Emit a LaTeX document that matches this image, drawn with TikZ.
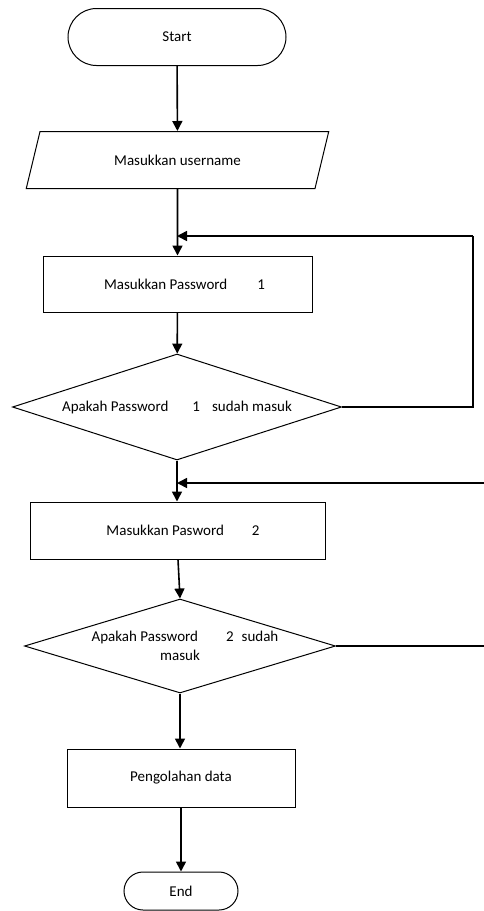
\documentclass[tikz,border=0pt]{standalone}
\usepackage{fontspec}
\setmainfont{Carlito}
\usetikzlibrary{shapes.geometric, shapes.misc, arrows.meta}

\begin{document}
\begin{tikzpicture}[x=1pt, y=-1pt,
                font=\fontsize{15}{19}\selectfont,
                box/.style={draw, line width=1pt, inner sep=0pt},
                terminal/.style={box, rounded rectangle},
                io/.style={box, trapezium, trapezium left angle=59, trapezium right angle=121, trapezium stretches=true},
                process/.style={box, rectangle},
                decision/.style={box, diamond, aspect=3.1, align=center},
                flow/.style={line width=1.6pt, -{Triangle[length=10pt, width=10pt]}},
                line/.style={line width=1.6pt}]
                \useasboundingbox (0,0) rectangle (484,911);
                \node[terminal, minimum width=218pt, minimum height=57pt] (start) at (177,37) {Start};
                \node[io, minimum width=303pt, minimum height=57pt] (user) at (177.5,160) {Masukkan username};
                \node[process, minimum width=269pt, minimum height=56pt] (pw1) at (177.5,284) {\hspace{14pt}Masukkan Password\hspace{30pt}1};
                \node[decision, minimum width=329pt, minimum height=106pt] (cek1) at (177,407) {Apakah Password\hspace{24pt}1\hspace{12pt}sudah masuk};
                \node[process, minimum width=295pt, minimum height=57pt] (pw2) at (178,530.5) {\hspace{10pt}Masukkan Pasword\hspace{28pt}2};
                \node[decision, minimum width=311pt, minimum height=94pt] (cek2) at (180,646) {\hspace{10pt}Apakah Password\hspace{28pt}2\hspace{8pt}sudah\\masuk};
                \node[process, minimum width=228pt, minimum height=58pt] (olah) at (181,778) {Pengolahan data};
                \node[terminal, minimum width=114pt, minimum height=38pt] (end) at (181,891) {End};
                \coordinate (join1) at (177,236);
                \coordinate (join2) at (177,483);
                \coordinate (corner1) at (473,407);
                \coordinate (corner2) at (473,236);
                \coordinate (edge2a) at (484,646);
                \coordinate (edge2b) at (484,483);
                \draw[flow] (start) -- (user);
                \draw[flow] (user) -- (pw1);
                \draw[flow] (pw1) -- (cek1);
                \draw[line] (cek1.east) -- (corner1) -- (corner2);
                \draw[flow] (corner2) -- (join1);
                \draw[flow] (cek1.south) -- (cek1.south |- pw2.north);
                \draw[flow] (edge2b) -- (join2);
                \draw[flow] (pw2.south) -- (cek2.north);
                \draw[line] (cek2.east) -- (edge2a);
                \draw[flow] (cek2.south) -- (cek2.south |- olah.north);
                \draw[flow] (olah) -- (end);
            \end{tikzpicture}
\end{document}
